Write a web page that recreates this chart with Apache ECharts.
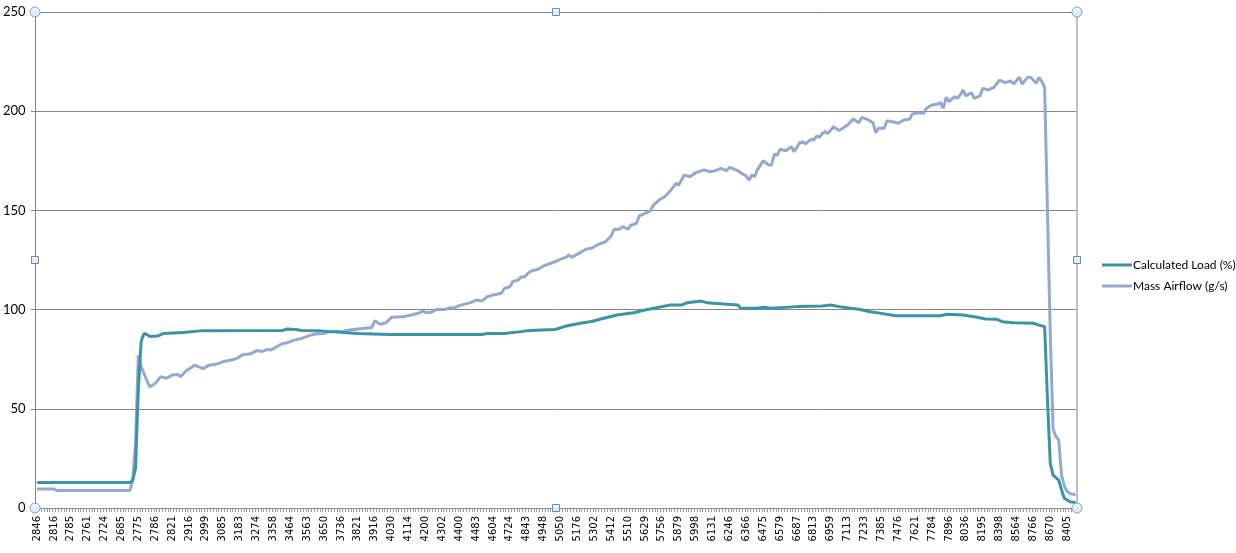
<!DOCTYPE html>
<html><head><meta charset="utf-8">
<script src="https://cdn.jsdelivr.net/npm/echarts@6/dist/echarts.min.js"></script>
<style>html,body{margin:0;padding:0;background:#fff}#c{width:1236px;height:553px}</style>
</head><body><div id="c"></div>
<script>
// tick labels shown every 6th category (370 categories total)
const xLabels = [2846,2816,2785,2761,2724,2685,2775,2786,2821,2916,2999,3085,3183,3274,3358,3464,3563,3650,3736,3821,3916,4030,4114,4200,4302,4400,4483,4604,4724,4843,4948,5050,5176,5302,5412,5510,5629,5756,5879,5998,6131,6246,6366,6475,6579,6687,6813,6959,7113,7233,7385,7476,7621,7784,7896,8036,8195,8398,8564,8766,8670,8405];
const categoryCount = 370;
const labelStep = 6;
const yTicks = [0,50,100,150,200,250];
const seriesNames = ['Calculated Load (%)','Mass Airflow (g/s)'];

// [category index, value]
const loadPoints = [[0,12.8],[33,12.8],[34,14],[35,20],[36,60],[37,84],[38,88],[39,87.5],[40,86.5],[43,86.7],[45,88],[52,88.4],[59,89.4],[87,89.5],[89,90.2],[92,90],[94,89.5],[100,89.4],[104,88.9],[114,88],[125,87.5],[158,87.5],[160,88],[166,88],[172,88.9],[174,89.4],[179,89.7],[184,90],[188,91.7],[193,93.1],[197,94],[200,95.1],[206,97.3],[212,98.4],[216,99.8],[221,101.2],[225,102.3],[229,102.3],[231,103.5],[236,104.3],[238,103.5],[244,102.8],[249,102.3],[250,100.7],[256,100.7],[258,101.2],[261,100.7],[270,101.5],[279,101.8],[282,102.3],[285,101.5],[289,100.7],[292,100.2],[296,98.9],[300,98.1],[305,96.9],[321,96.9],[323,97.6],[329,97.3],[334,96.1],[337,95.3],[341,95.1],[343,93.9],[347,93.4],[354,93.1],[356,92.2],[358,91.4],[359,55],[360,22.5],[361,16.6],[363,14.1],[364,9.1],[365,4.9],[367,3.2],[369,2.7]];

const mafPoints = [[0,9.6],[6,9.6],[7,8.8],[33,8.8],[34,14],[35,32.6],[36,77.1],[37,71.2],[40,61],[42,62.8],[44,66.2],[46,65.4],[48,67],[50,67.3],[51,66.2],[53,69.2],[56,72],[59,70.2],[61,71.9],[64,72.6],[66,73.7],[69,74.6],[71,75.4],[73,77.3],[76,77.8],[78,79.4],[80,78.9],[82,80],[83,79.6],[87,82.8],[89,83.3],[91,84.5],[94,85.5],[97,87],[99,87.7],[102,88],[104,88.9],[108,88.9],[111,89.7],[115,90.4],[119,91],[120,94.4],[122,92.6],[124,93.4],[126,96.1],[130,96.4],[133,97.3],[136,98.4],[137,99.4],[138,98.6],[140,98.6],[142,100.1],[145,100.1],[147,101],[148,100.7],[150,102],[154,103.5],[156,104.8],[158,104.3],[160,106.5],[162,107.4],[165,108.2],[166,110.7],[168,111.5],[169,114.1],[171,114.9],[172,116.6],[173,116.3],[175,119.1],[177,120],[178,120.3],[180,122],[183,123.6],[186,125.3],[188,126.4],[189,127.5],[190,126.4],[193,128.7],[195,130.4],[197,130.9],[199,132.6],[201,133.7],[202,134.2],[204,137.1],[205,140.5],[207,140.5],[208,141.8],[210,140.5],[211,142.6],[213,143.5],[214,147.2],[216,148.5],[218,149.9],[219,152.7],[221,155.2],[223,156.9],[224,158.3],[226,161.6],[227,163.6],[228,162.8],[230,167.8],[232,167],[234,169],[237,170.4],[239,169.5],[241,170],[243,171.2],[245,170],[246,171.7],[249,170],[250,169],[252,167.3],[253,165.3],[254,167.8],[255,167],[256,170.7],[258,175],[260,172.9],[261,172.9],[262,178.4],[263,177.9],[264,180.8],[266,180.1],[268,182.1],[269,179.6],[271,184.1],[272,184.6],[273,183.5],[275,185.8],[276,185.5],[277,187.5],[278,186.8],[279,188.8],[280,189.7],[281,188.8],[283,192.2],[285,190.2],[287,192.2],[288,193],[290,196.1],[292,194.2],[293,196.9],[295,195.9],[297,194.2],[298,189.2],[299,191.4],[301,191.4],[302,195.2],[304,194.7],[306,193.9],[308,195.6],[310,195.9],[311,198.6],[313,199.2],[315,198.9],[316,201.5],[318,203.1],[320,203.6],[321,204.3],[322,201.5],[323,207],[324,204.8],[326,207.3],[327,206.5],[328,208.2],[329,210.7],[330,207.7],[332,209.3],[333,206.5],[335,207.7],[336,211.5],[338,210.7],[340,212],[342,215.7],[344,214.4],[346,215.2],[347,213.7],[349,217.1],[350,213.7],[352,217.1],[353,217.1],[355,214.1],[356,217.1],[357,215],[358,212],[360,88],[361,40],[362,36],[363,34.3],[364,16.6],[365,11],[366,8.5],[367,7.3],[369,6.6]];

const categories = [];
for (let i = 0; i < categoryCount; i++) {
  categories.push(i % labelStep === 0 && xLabels[i / labelStep] !== undefined ? String(xLabels[i / labelStep]) : '');
}

const G = {left: 35, right: 159, top: 12, bottom: 45};
const W = 1236, H = 553;
const gl = G.left, gr = W - G.right, gt = G.top, gb = H - G.bottom;
const mx = (gl + gr) / 2, my = (gt + gb) / 2;

const handleFill = {type: 'linear', x: 0, y: 0, x2: 0, y2: 1, colorStops: [{offset: 0, color: '#f4fafd'}, {offset: 1, color: '#cfe6f0'}]};
function circ(x, y) {
  return {type: 'circle', shape: {cx: x, cy: y, r: 5}, z: 100,
    style: {fill: handleFill, stroke: '#8aa0b0', lineWidth: 1}};
}
function sq(x, y) {
  return {type: 'rect', shape: {x: x - 3.5, y: y - 3.5, width: 7, height: 7}, z: 100,
    style: {fill: handleFill, stroke: '#6f8ca5', lineWidth: 1}};
}

const chart = echarts.init(document.getElementById('c'), null, {renderer: 'canvas'});
chart.setOption({
  animation: false,
  backgroundColor: '#fff',
  grid: {left: G.left, right: G.right, top: G.top, bottom: G.bottom, containLabel: false},
  legend: {
    orient: 'vertical', left: 1097, top: 254, itemGap: 9,
    itemWidth: 30, itemHeight: 3, icon: 'rect',
    textStyle: {fontFamily: 'Lato', fontSize: 12, color: '#000', padding: [0, 0, 0, -4]},
    data: seriesNames
  },
  xAxis: {
    type: 'category', data: categories, boundaryGap: true,
    axisLine: {lineStyle: {color: '#868686', width: 1}},
    axisTick: {show: true, interval: 0, length: 4, lineStyle: {color: '#9a9a9a'}},
    axisLabel: {interval: labelStep - 1, rotate: 90, margin: 8, fontFamily: 'DejaVu Sans', fontSize: 10, color: '#000'},
    splitLine: {show: false}
  },
  yAxis: {
    type: 'value', min: yTicks[0], max: yTicks[yTicks.length - 1], interval: 50,
    axisLine: {show: true, lineStyle: {color: '#868686'}},
    axisTick: {show: true, length: 5, lineStyle: {color: '#868686'}},
    axisLabel: {margin: 10, fontFamily: 'Lato', fontSize: 13, color: '#000'},
    splitLine: {show: true, lineStyle: {color: '#868686', width: 1}}
  },
  series: [
    {name: seriesNames[0], type: 'line', data: loadPoints, showSymbol: false, symbol: 'none',
     lineStyle: {color: '#3a94a8', width: 3}, itemStyle: {color: '#3a94a8'}, z: 3},
    {name: seriesNames[1], type: 'line', data: mafPoints, showSymbol: false, symbol: 'none',
     lineStyle: {color: '#93a9d1', width: 3}, itemStyle: {color: '#93a9d1'}, z: 2}
  ],
  graphic: [
    {type: 'line', shape: {x1: gr, y1: gt, x2: gr, y2: gb}, style: {stroke: '#c0c0c0', lineWidth: 2}, z: 50},
    circ(gl, gt), sq(mx, gt), circ(gr, gt),
    sq(gl, my), sq(gr, my),
    circ(gl, gb), sq(mx, gb), circ(gr, gb)
  ]
});
</script>
</body></html>
